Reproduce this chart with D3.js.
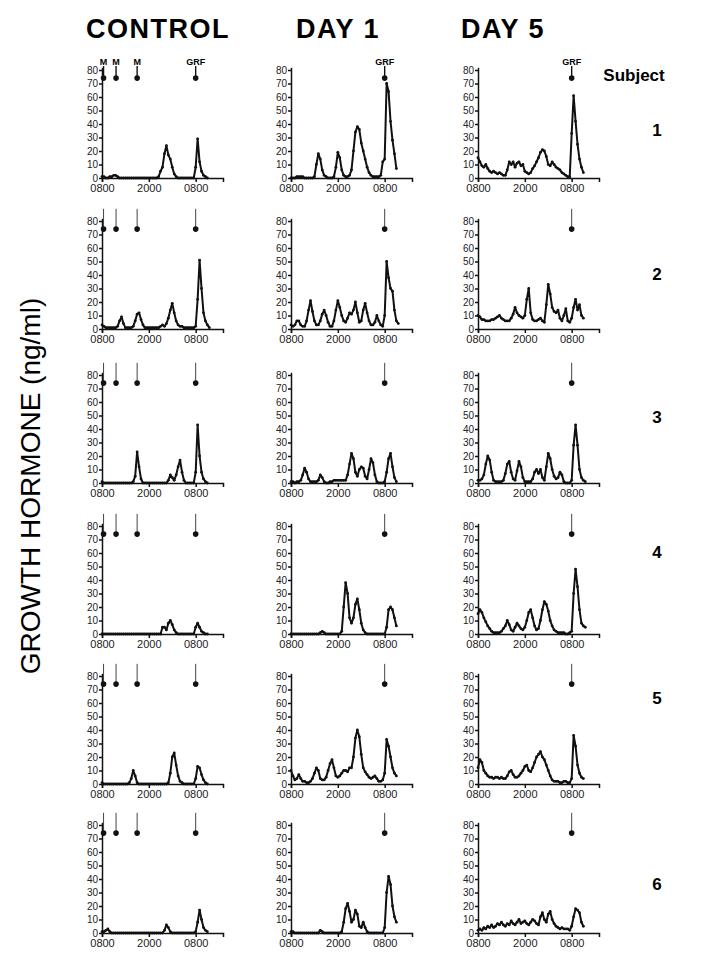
<!DOCTYPE html>
<html>
<head>
<meta charset="utf-8">
<script src="https://cdn.jsdelivr.net/npm/d3@7"></script>
<style>
  body { margin: 0; background: #fff; }
  svg text { font-family: "Liberation Sans", Arial, sans-serif; }
</style>
</head>
<body>
<div id="chart"></div>
<script>
// ---------------------------------------------------------------
// Data: GH (ng/ml) sampled every 30 min from 0800 (hour 0)
// ---------------------------------------------------------------
const hours = [0, 0.5, 1, 1.5, 2, 2.5, 3, 3.5, 4, 4.5,
  5, 5.5, 6, 6.5, 7, 7.5, 8, 8.5, 9, 9.5,
  10, 10.5, 11, 11.5, 12, 12.5, 13, 13.5, 14, 14.5,
  15, 15.5, 16, 16.5, 17, 17.5, 18, 18.5, 19, 19.5,
  20, 20.5, 21, 21.5, 22, 22.5, 23, 23.5, 24, 24.5,
  25, 25.5, 26, 26.5, 27, 27.5];

const conditions = ["CONTROL", "DAY 1", "DAY 5"];
const subjects = ["1", "2", "3", "4", "5", "6"];
const yTicks = [0, 10, 20, 30, 40, 50, 60, 70, 80];
const xTicks = [0, 12, 24];
const xTickLabels = ["0800", "2000", "0800"];
const mealHours = [0.4, 3.6, 9];
const grfHour = 24;

const control1 = [1,1,0,0,1,1,2,2,1,0, 0,0,0,0,0,0,0,0,0,0, 0,0,0,0,0,0,0,0,0,1,
  5,8,18,24,17,14,8,3,1,0, 0,0,0,0,0,0,0,0,8,29, 12,5,2,1,0];
const control2 = [3,2,1,1,1,1,1,1,2,6, 9,4,1,1,1,1,2,6,11,12, 7,3,1,1,1,1,1,1,1,1,
  2,3,2,4,8,14,19,12,6,3, 2,2,1,1,1,1,1,1,2,22, 51,30,12,6,3,1];
const control3 = [1,0,0,0,0,0,0,0,0,0, 0,0,0,0,0,0,1,5,23,12, 3,0,0,0,0,0,0,0,0,0,
  0,0,0,0,2,6,4,2,6,12, 17,8,2,0,0,0,0,0,8,43, 20,8,3,1,0];
const control4 = [0,0,0,0,0,0,0,0,0,0, 0,0,0,0,0,0,0,0,0,0, 0,0,0,0,0,0,0,0,0,0,
  0,5,5,3,8,10,7,3,1,0, 0,0,0,0,0,0,0,0,5,8, 5,2,1,0,0];
const control5 = [1,0,0,0,0,0,0,0,0,0, 0,0,0,0,1,4,10,6,1,0, 0,0,0,0,0,0,0,0,0,0,
  0,0,0,0,1,8,20,23,14,6, 2,1,0,0,0,0,0,0,4,13, 12,7,3,1,0];
const control6 = [1,1,2,3,1,0,0,0,0,0, 0,0,0,0,0,0,0,0,0,0, 0,0,0,0,0,0,0,0,0,0,
  0,0,2,6,4,1,0,0,0,0, 0,0,0,0,0,0,0,0,1,8, 17,10,4,2,1];

const day1s1 = [0,0,0,1,1,1,1,0,0,0, 0,0,1,10,18,14,6,2,1,0, 0,0,1,8,19,15,6,2,1,1,
  2,6,20,34,38,36,26,20,14,8, 4,2,1,1,1,1,2,12,14,70, 64,42,28,18,7];
const day1s2 = [3,2,3,6,6,3,2,2,6,14, 21,13,6,3,3,6,11,14,10,5, 2,2,6,14,21,16,10,6,5,8,
  12,11,14,20,12,5,6,14,19,12, 6,3,3,5,10,6,3,2,10,50, 38,30,28,14,6,4];
const day1s3 = [1,1,0,1,1,2,6,11,8,3, 1,1,1,1,2,6,4,1,0,0, 1,1,2,2,2,2,2,2,2,6,
  14,22,18,8,5,10,12,11,5,3, 10,18,15,6,1,0,0,0,1,8, 18,22,12,4,1];
const day1s4 = [0,0,0,0,0,0,0,0,0,0, 0,0,0,0,0,1,2,1,0,0, 0,0,0,0,0,0,2,20,38,30,
  12,8,12,22,26,18,8,3,1,0, 0,0,0,0,0,0,0,0,0,5, 18,20,18,12,6];
const day1s5 = [10,6,3,4,7,4,2,2,1,1, 2,4,8,12,10,4,3,3,5,10, 15,18,12,6,5,6,8,10,10,9,
  12,12,20,34,40,35,22,12,9,7, 5,4,5,6,4,2,2,3,8,33, 28,20,12,8,6];
const day1s6 = [1,1,0,0,0,0,0,0,0,0, 0,0,0,0,0,2,1,0,0,0, 0,0,0,0,0,0,1,8,18,22,
  16,8,10,17,14,5,4,8,4,1, 0,0,0,0,0,0,0,0,4,30, 42,36,20,12,8];

const day5s1 = [15,12,9,8,10,7,5,4,5,4, 3,4,3,2,2,6,12,10,12,8, 11,12,9,10,5,4,3,4,7,9,
  12,15,19,21,20,16,10,9,12,10, 8,7,6,4,3,2,1,1,33,61, 42,25,14,8,4];
const day5s2 = [10,9,7,7,6,6,6,7,7,8, 9,10,8,7,6,6,6,8,11,16, 12,10,9,8,10,22,30,12,7,6,
  6,7,8,6,5,18,33,26,16,13, 12,14,8,6,10,15,6,5,8,16, 22,14,18,10,8];
const day5s3 = [2,2,3,6,14,20,17,8,2,1, 1,1,1,2,7,14,16,8,3,2, 9,16,12,4,1,1,1,1,3,8,
  10,7,10,4,2,12,22,18,10,5, 3,4,8,6,1,0,0,0,2,28, 43,28,10,4,2,1];
const day5s4 = [15,18,16,12,9,6,4,2,1,1, 1,1,2,4,6,10,7,3,2,5, 8,6,4,3,5,10,16,18,12,6,
  3,4,10,18,24,22,17,10,6,3, 2,1,1,1,1,0,0,1,2,30, 48,35,18,8,6,5];
const day5s5 = [12,18,16,10,8,6,5,5,4,5, 5,4,5,4,4,6,9,10,7,5, 5,6,8,10,13,14,10,9,12,16,
  20,22,24,20,18,14,10,6,3,2, 2,2,1,1,2,2,1,1,4,36, 28,14,8,5,4];
const day5s6 = [2,3,2,4,3,5,4,6,4,5, 7,6,8,6,5,7,6,9,7,6, 8,10,7,8,9,7,6,8,10,9,
  7,6,12,15,10,8,14,16,10,7, 5,4,3,4,3,3,3,2,5,12, 18,17,15,8,5];

const controlSeries = [control1, control2, control3, control4, control5, control6];
const day1Series = [day1s1, day1s2, day1s3, day1s4, day1s5, day1s6];
const day5Series = [day5s1, day5s2, day5s3, day5s4, day5s5, day5s6];
const seriesByCondition = [controlSeries, day1Series, day5Series];

// ---------------------------------------------------------------
// Layout
// ---------------------------------------------------------------
const width = 712, height = 956;
const colX = [102, 291, 478];
const headerX = [158, 338, 503];
const rowZero = [178, 329, 483, 634, 784, 933];
const subjectY = [130, 274, 417, 552, 698, 884];
const plotW = 121, plotH = 110.7; // x: 0..31 h, y: 0..82

const svg = d3.select("#chart")
    .append("svg")
    .attr("width", width)
    .attr("height", height);

// Y title
svg.append("text")
    .attr("transform", "translate(40,486) rotate(-90)")
    .attr("text-anchor", "middle")
    .style("font-size", "28px")
    .text("GROWTH HORMONE (ng/ml)");

// Subject column
svg.append("text")
    .attr("x", 634)
    .attr("y", 81)
    .attr("text-anchor", "middle")
    .style("font-size", "17px")
    .style("font-weight", "bold")
    .text("Subject");

subjects.forEach((s, r) => {
    svg.append("text")
        .attr("x", 657)
        .attr("y", subjectY[r] + 6)
        .attr("text-anchor", "middle")
        .style("font-size", "17px")
        .style("font-weight", "bold")
        .text(s);
});

conditions.forEach((cond, c) => {
    svg.append("text")
        .attr("x", headerX[c])
        .attr("y", 38)
        .attr("text-anchor", "middle")
        .style("font-size", "27px")
        .style("font-weight", "bold")
        .style("letter-spacing", "1.5px")
        .text(cond);

    seriesByCondition[c].forEach((values, r) => {
        const x = d3.scaleLinear().domain([0, 31]).range([colX[c], colX[c] + plotW]);
        const y = d3.scaleLinear().domain([0, 82]).range([rowZero[r], rowZero[r] - plotH]);
        const g = svg.append("g");

        // axes
        const yAx = g.append("g")
            .attr("transform", `translate(${colX[c]},0)`)
            .call(d3.axisLeft(y).tickValues(yTicks).tickSize(3).tickSizeOuter(0).tickPadding(1));
        const xAx = g.append("g")
            .attr("transform", `translate(0,${rowZero[r]})`)
            .call(d3.axisBottom(x).tickValues(xTicks)
                .tickFormat((d, i) => xTickLabels[i])
                .tickSize(4).tickSizeOuter(4).tickPadding(2));
        [yAx, xAx].forEach(a => {
            a.attr("font-family", null).attr("font-size", null);
            a.selectAll("path, line").attr("stroke", "#111").attr("stroke-width", 1.5);
        });
        yAx.selectAll("text").style("font-size", "10px").attr("fill", "#222");
        xAx.selectAll("text").style("font-size", "11px").attr("fill", "#222");

        // GH profile
        const line = d3.line()
            .x((d, i) => x(hours[i]))
            .y(d => y(d));

        g.append("path")
            .datum(values)
            .attr("d", line)
            .attr("fill", "none")
            .attr("stroke", "#111")
            .attr("stroke-width", 2)
            .attr("stroke-linejoin", "round");

        g.selectAll("circle.pt")
            .data(values)
            .join("circle")
            .attr("class", "pt")
            .attr("cx", (d, i) => x(hours[i]))
            .attr("cy", d => y(d))
            .attr("r", 1.4)
            .attr("fill", "#111");

        // meal / GRF arrows
        const arrowHours = c === 0 ? mealHours.concat([grfHour]) : [grfHour];
        const arrowLabels = c === 0 ? ["M", "M", "M", "GRF"] : ["GRF"];
        arrowHours.forEach((h, k) => {
            const top = r === 0 ? y(83) : y(89);
            g.append("line")
                .attr("x1", x(h)).attr("x2", x(h))
                .attr("y1", top).attr("y2", y(74))
                .attr("stroke", r === 0 ? "#111" : "#444")
                .attr("stroke-width", r === 0 ? 1.4 : 1);
            g.append("circle")
                .attr("cx", x(h))
                .attr("cy", y(74))
                .attr("r", 2.8)
                .attr("fill", "#111");
            if (r === 0) {
                g.append("text")
                    .attr("x", x(h))
                    .attr("y", y(84))
                    .attr("text-anchor", "middle")
                    .style("font-size", "9px")
                    .style("font-weight", "bold")
                    .text(arrowLabels[k]);
            }
        });
    });
});
</script>
</body>
</html>
